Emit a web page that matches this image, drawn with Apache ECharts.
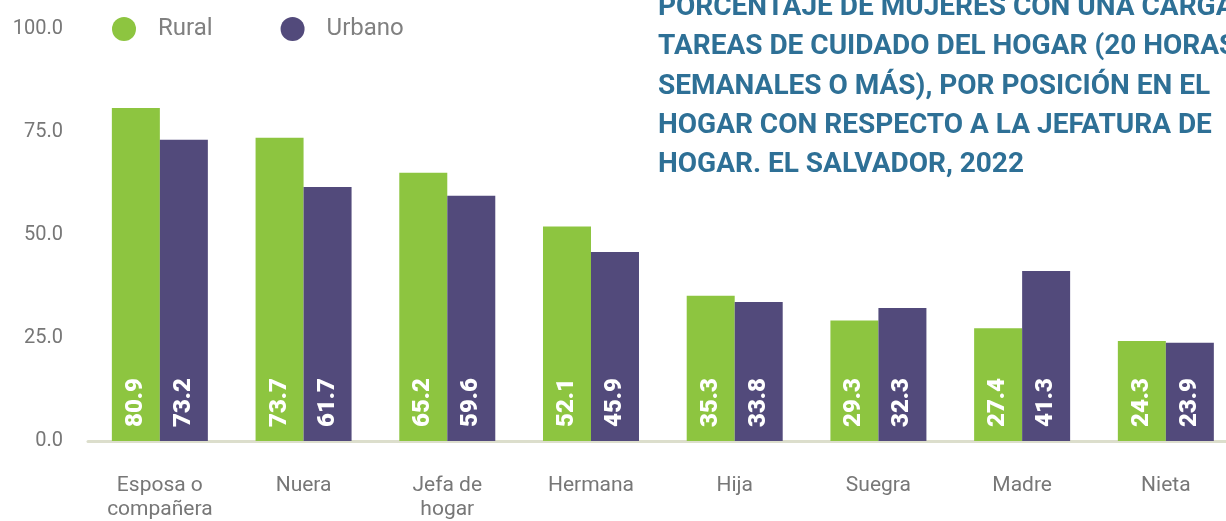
<!DOCTYPE html>
<html><head><meta charset="utf-8">
<script src="https://cdn.jsdelivr.net/npm/echarts@6/dist/echarts.min.js"></script>
<style>html,body{margin:0;padding:0;background:#fff}#c{width:1226px;height:521px}</style>
</head><body><div id="c"></div>
<script>
const categories = ['Esposa o\ncompañera', 'Nuera', 'Jefa de\nhogar', 'Hermana', 'Hija', 'Suegra', 'Madre', 'Nieta'];
const rural = [80.9, 73.7, 65.2, 52.1, 35.3, 29.3, 27.4, 24.3];
const urbano = [73.2, 61.7, 59.6, 45.9, 33.8, 32.3, 41.3, 23.9];
const yTicks = [0, 25, 50, 75, 100];
const titleText = 'PORCENTAJE DE MUJERES CON UNA CARGA DE\nTAREAS DE CUIDADO DEL HOGAR (20 HORAS\nSEMANALES O MÁS), POR POSICIÓN EN EL\nHOGAR CON RESPECTO A LA JEFATURA DE\nHOGAR. EL SALVADOR, 2022';

const chart = echarts.init(document.getElementById('c'), null, {renderer: 'canvas'});
const labelStyle = {
  show: true, position: 'insideBottom', rotate: 90, align: 'left', verticalAlign: 'middle',
  distance: 14, color: '#fff', fontWeight: 900, fontSize: 24, fontFamily: 'Roboto',
  formatter: p => p.value.toFixed(1)
};
chart.setOption({
  animation: false,
  title: {
    text: titleText, left: 653, top: -17,
    textStyle: {color: '#2E7096', fontSize: 28, fontWeight: 'bold', fontFamily: 'Roboto', lineHeight: 39.4}
  },
  legend: {
    left: 107, top: 12, icon: 'circle', itemWidth: 24, itemHeight: 24, itemGap: 68,
    textStyle: {color: '#808080', fontSize: 24, fontFamily: 'Roboto', padding: [0, 0, 0, 17]},
    data: ['Rural', 'Urbano']
  },
  grid: {left: 88, right: -11.7, top: 29.4, bottom: 80, containLabel: false, outerBoundsMode: 'none'},
  xAxis: {
    type: 'category', data: categories,
    axisLine: {lineStyle: {color: '#DCDECC', width: 3}},
    axisTick: {show: false},
    axisLabel: {color: '#777', fontSize: 21, fontFamily: 'Roboto', margin: 33, lineHeight: 24, interval: 0}
  },
  yAxis: {
    type: 'value', min: 0, max: 100, interval: 25,
    axisLine: {show: false}, axisTick: {show: false}, splitLine: {show: false},
    axisLabel: {color: '#777', fontSize: 20, fontFamily: 'Roboto', margin: 25,
      formatter: v => yTicks.includes(v) ? v.toFixed(1) : ''}
  },
  series: [
    {name: 'Rural', type: 'bar', data: rural, barWidth: 48, barGap: '0%', itemStyle: {color: '#8DC540'}, label: labelStyle},
    {name: 'Urbano', type: 'bar', data: urbano, barWidth: 48, barGap: '0%', itemStyle: {color: '#524A7B'}, label: labelStyle}
  ]
});
</script></body></html>
